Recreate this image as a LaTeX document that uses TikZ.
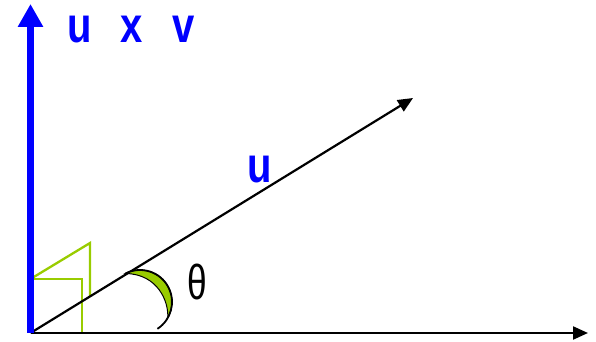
\documentclass[tikz,border=0pt]{standalone}
\usepackage{fontspec}
\setmainfont{Liberation Sans}
\newfontfamily\lblfont[WordSpace=2.6]{Liberation Sans Bold}
\usetikzlibrary{arrows.meta,calc}
\definecolor{vecblue}{RGB}{0,0,255}
\definecolor{anglegreen}{RGB}{153,204,0}
\tikzset{
  veclabel/.style={text=vecblue, font=\lblfont\fontsize{50}{52}\selectfont, inner sep=0pt},
  axisline/.style={draw=black, line width=2.2pt, -{Triangle[length=15pt,width=13pt]}},
  crossvec/.style={draw=vecblue, line width=7pt, -{Triangle[length=23pt,width=24pt]}},
  rightmark/.style={draw=anglegreen, line width=2.3pt},
}
\begin{document}
\begin{tikzpicture}[x=1pt,y=1pt]
\useasboundingbox (0,0) rectangle (596,342);
\coordinate (O) at (30.5,9);
\coordinate (Ztip) at (30.5,338);
\coordinate (Utip) at (413,244);
\coordinate (Vtip) at (588,9);
\coordinate (M1) at (30.5,63);
\coordinate (M2) at (90,99);
\coordinate (M3) at (90,45.8);
\coordinate (M4) at (82,63);
\coordinate (M5) at (82,9);
% right-angle markers
\draw[rightmark] (M1) -- (M2) -- (M3);
\draw[rightmark] (M1) -- (M4) -- (M5);
% vectors
\draw[axisline] (O) -- (Vtip);
\draw[axisline] (O) -- (Utip);
\draw[crossvec] (O) -- (Ztip);
% angle crescent
\coordinate (C) at (140,40);
\fill[anglegreen, draw=black, line width=1pt] ($(C)+(117:32)$) arc[start angle=117, end angle=-30, radius=32]
   .. controls (169,40) and (158,68) .. cycle;
\draw[black, line width=1.8pt] ($(C)+(117:32)$) arc[start angle=117, end angle=-57, radius=32];
% labels
\node[veclabel] (uxv) at (131,312) {\scalebox{0.8}[1]{u x v}};
\node[veclabel] (ulbl) at (260,172) {\scalebox{0.8}[1]{u}};
\node[inner sep=0pt, font=\fontsize{49}{50}\selectfont] (theta) at (197,60) {\scalebox{0.72}[1]{θ}};
\end{tikzpicture}
\end{document}
